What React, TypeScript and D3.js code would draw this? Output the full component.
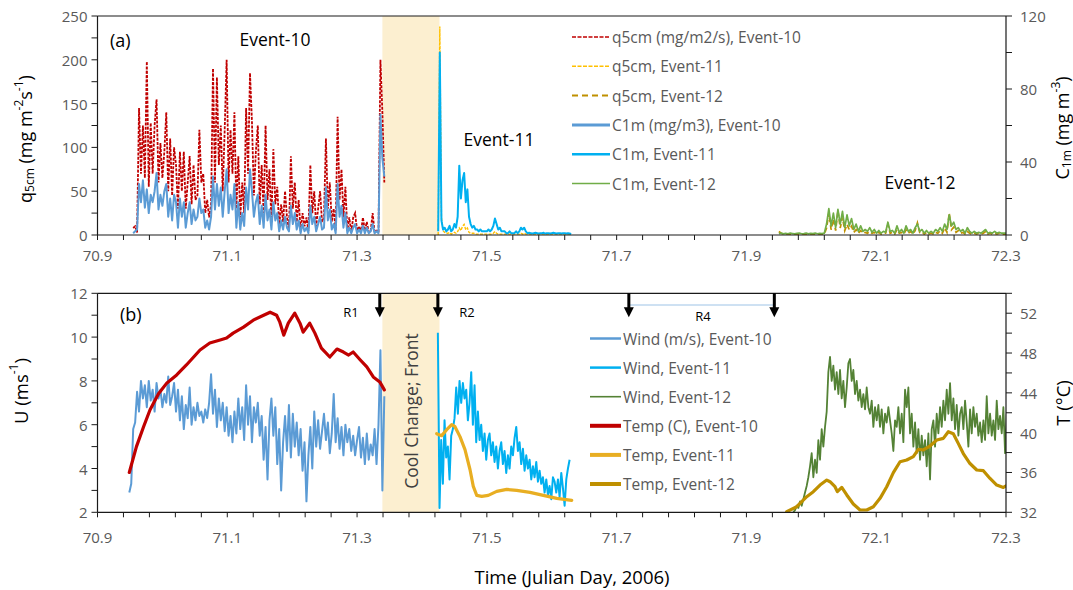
import React from 'react';
import * as d3 from 'd3';

// ---------------- axis ticks ----------------
const DAY_TICKS = [70.9, 71.1, 71.3, 71.5, 71.7, 71.9, 72.1, 72.3];
const Q_TICKS = [0, 50, 100, 150, 200, 250];
const C_TICKS = [0, 40, 80, 120];
const U_TICKS = [2, 4, 6, 8, 10, 12];
const T_TICKS = [32, 36, 40, 44, 48, 52];

// cool change / front shading (Julian day)
const COOL_FRONT = [71.339, 71.427];
// regime arrows R1, R2, R4 start, R4 end
const ARROW_DAYS = [71.335, 71.4245, 71.7188, 71.943];

// ---------------- panel (a): Event-10 ----------------
const E10_TOP_START = 70.955;
const E10_TOP_STEP = 0.003;
const Q5_E10 = [
  8, 10, 3, 145, 70, 125, 65, 198, 55, 128,
  70, 125, 155, 60, 105, 65, 95, 140, 50, 110,
  45, 100, 80, 30, 95, 50, 95, 30, 60, 90,
  35, 80, 40, 45, 120, 60, 70, 25, 40, 20,
  35, 190, 60, 180, 80, 125, 50, 120, 200, 60,
  120, 70, 140, 30, 90, 20, 60, 25, 145, 70,
  185, 130, 45, 95, 125, 35, 80, 25, 125, 40,
  75, 15, 98, 35, 55, 10, 35, 15, 50, 20,
  5, 90, 30, 60, 15, 40, 5, 25, 10, 20,
  5, 80, 25, 50, 10, 30, 50, 15, 20, 110,
  30, 60, 15, 30, 5, 135, 40, 75, 20, 55,
  5, 20, 3, 20, 25, 5, 10, 3, 20, 5,
  15, 3, 5, 25, 3, 5, 3, 200, 140, 60,
];
const C1_E10 = [
  1, 2, 3, 28, 18, 30, 15, 25, 12, 22,
  18, 24, 34, 14, 22, 16, 24, 28, 10, 20,
  8, 22, 18, 4, 20, 10, 18, 4, 12, 18,
  6, 14, 8, 10, 20, 12, 14, 4, 8, 3,
  10, 32, 14, 28, 16, 26, 10, 24, 36, 12,
  22, 14, 28, 4, 18, 3, 12, 5, 26, 14,
  36, 24, 10, 18, 22, 6, 16, 4, 22, 8,
  14, 3, 18, 8, 12, 2, 8, 3, 10, 4,
  2, 16, 6, 12, 3, 8, 1, 6, 2, 4,
  1, 16, 6, 10, 2, 6, 10, 3, 4, 26,
  8, 14, 3, 6, 1, 28, 10, 16, 4, 12,
  1, 4, 1, 4, 6, 1, 3, 1, 5, 1,
  4, 1, 2, 6, 1, 2, 1, 66, 42, 32,
];

// ---------------- panel (a): Event-11 ----------------
const E11_TOP_START = 71.425;
const E11_TOP_STEP = 0.0025;
const Q5_E11 = [
  0, 238, 20, 5, 3, 2, 2, 3, 1, 2,
  3, 2, 4, 8, 5, 10, 12, 6, 8, 3,
  2, 2, 2, 1, 1, 1, 1, 1, 1, 1,
  1, 1, 1, 1, 2, 4, 2, 1, 1, 1,
  1, 1, 1, 1, 1, 1, 1, 1, 1, 1,
  1, 2, 1, 2, 1, 1, 1, 1, 1, 1,
  1, 1, 1, 1, 1, 1, 1, 1, 1, 1,
  1, 1, 1, 1, 1, 1, 1, 1, 1, 1,
  1, 1, 0,
];
const C1_E11 = [
  2, 100, 8, 3, 4, 2, 3, 5, 2, 3,
  6, 4, 10, 38, 20, 30, 34, 18, 25, 10,
  6, 4, 5, 3, 3, 2, 3, 2, 2, 2,
  2, 3, 2, 3, 5, 9, 6, 3, 4, 2,
  2, 2, 1, 1, 2, 1, 1, 1, 2, 1,
  2, 4, 3, 4, 2, 1, 1.2, 1, 0.8, 1,
  1.2, 1, 0.8, 1, 1, 1.2, 0.8, 1, 1, 0.8,
  1, 1.2, 1, 0.8, 1, 1, 0.8, 1, 1, 0.8,
  1, 0.8, 0.6,
];

// ---------------- panel (a): Event-12 ----------------
const E12_TOP_START = 71.95;
const E12_TOP_STEP = 0.0035;
const Q5_E12 = [
  4, 2, 1, 1, 1, 1, 1, 1, 1, 1,
  1, 1, 1, 1, 1, 1, 1, 1, 1, 1,
  1, 8, 25, 6, 18, 5, 28, 8, 20, 5,
  12, 6, 10, 3, 6, 2, 5, 2, 3, 2,
  4, 2, 3, 1, 3, 1, 2, 2, 12, 2,
  3, 1, 6, 2, 3, 1, 6, 2, 4, 1,
  5, 14, 3, 4, 1, 3, 1, 2, 1, 3,
  2, 5, 2, 8, 3, 25, 6, 9, 3, 5,
  2, 3, 1, 4, 2, 1, 2, 1, 2, 1,
  2, 4, 1, 2, 1, 2, 1, 2, 1, 1,
  1,
];
const C1_E12 = [
  0.8, 1, 0.6, 0.9, 0.7, 1, 0.8, 0.6, 0.9, 1,
  0.7, 0.8, 1, 0.6, 0.9, 0.8, 1, 0.7, 0.9, 0.8,
  1, 6, 14.5, 5, 12, 4, 14, 6, 13, 4,
  11, 5, 9, 3, 6, 2, 5, 2, 3, 2,
  4, 1.5, 3, 1, 2.5, 1, 2, 1.5, 7, 2,
  2.5, 1, 5, 1.5, 3, 1, 5, 2, 3, 1,
  4, 6, 2, 3, 1, 2.5, 1, 2, 1, 3,
  2, 4, 2, 6, 3, 11, 5, 7, 3, 4,
  2, 3, 1, 4, 2, 1, 2, 1, 1.5, 1,
  2, 3, 1, 1.5, 1, 2, 1, 1.5, 1, 1,
  1,
];

// ---------------- panel (b): wind ----------------
const WIND_E10_START = 70.949;
const WIND_E10_STEP = 0.003;
const WIND_E10 = [
  2.9, 3.3, 5.8, 6.1, 7.5, 6.6, 8.0, 7.2, 7.8, 6.8,
  8.0, 7.1, 7.6, 6.6, 7.9, 7.2, 7.6, 6.8, 7.4, 7.0,
  8.2, 6.9, 7.3, 7.9, 6.6, 7.6, 6.2, 7.3, 5.8, 6.9,
  6.3, 7.7, 6.0, 6.8, 6.2, 7.0, 6.4, 6.6, 6.1, 6.7,
  6.3, 7.0, 8.3, 6.5, 7.6, 5.9, 7.2, 6.2, 7.0, 5.7,
  6.8, 5.5, 6.4, 5.2, 6.6, 5.6, 7.2, 5.8, 6.8, 5.3,
  7.8, 6.0, 7.3, 5.2, 6.8, 6.1, 7.0, 5.5, 6.4, 4.4,
  5.9, 3.5, 6.2, 7.2, 5.5, 6.8, 4.2, 5.8, 3.0, 5.2,
  6.4, 4.8, 6.9, 4.5, 6.5, 5.0, 6.1, 4.6, 5.8, 3.9,
  5.2, 2.5, 4.6, 5.9, 4.0, 6.6, 5.0, 6.2, 4.9, 5.7,
  6.5, 5.3, 6.1, 4.7, 5.6, 7.4, 5.2, 6.3, 4.9, 5.9,
  4.6, 6.0, 5.2, 5.8, 4.8, 5.5, 4.6, 5.3, 5.9, 4.5,
  5.4, 4.2, 5.6, 4.4, 5.1, 4.6, 5.8, 4.2, 6.0, 9.4,
  3.0, 7.3,
];
const WIND_E11_START = 71.4245;
const WIND_E11_STEP = 0.00257;
const WIND_E11 = [
  10.2, 2.2, 5.3, 3.3, 6.2, 4.5, 5.0, 3.5, 5.5, 5.8,
  6.3, 7.7, 6.5, 8.0, 7.0, 7.9, 7.2, 7.6, 6.2, 7.0,
  8.4, 6.0, 7.8, 5.2, 6.6, 5.3, 6.0, 4.8, 5.6, 4.4,
  5.3, 5.6, 4.6, 5.2, 4.3, 5.0, 4.0, 4.8, 5.2, 4.2,
  4.8, 3.8, 4.6, 4.0, 5.0, 4.6, 5.4, 5.9, 4.8, 5.2,
  4.2, 4.9, 3.9, 4.6, 4.0, 4.4, 3.5, 4.1, 3.6, 4.3,
  3.4, 3.9, 3.3, 3.6, 2.9, 3.5, 2.8, 3.2, 2.6, 3.6,
  3.4, 2.9, 3.5, 2.7, 3.8, 3.1, 2.3, 3.5, 4.0, 4.4,
];
const WIND_E12_START = 71.9723;
const WIND_E12_STEP = 0.002569;
const WIND_E12 = [
  2.0, 2.1, 2.3, 2.2, 2.5, 2.3, 2.6, 2.9, 3.2, 3.6,
  4.1, 4.7, 3.6, 4.4, 3.8, 5.3, 4.4, 5.8, 5.0, 5.9,
  6.6, 8.4, 9.1, 8.0, 8.7, 7.6, 8.4, 7.4, 8.5, 7.2,
  8.0, 6.8, 7.7, 8.8, 9.0, 8.0, 8.5, 7.4, 8.0, 7.1,
  7.6, 6.8, 7.4, 6.7, 7.7, 6.8, 6.5, 7.1, 5.9, 6.8,
  6.2, 6.9, 5.9, 6.7, 5.6, 6.5, 6.1, 6.8, 6.2, 5.6,
  4.8, 6.2, 5.9, 6.8, 5.6, 6.5, 5.2, 7.6, 6.8, 7.7,
  5.6, 6.5, 5.0, 6.1, 4.7, 5.8, 4.4, 5.5, 4.6, 5.3,
  4.1, 5.6, 3.5, 5.8, 6.2, 5.0, 6.5, 5.6, 6.8, 5.9,
  7.1, 6.2, 7.6, 6.5, 7.9, 6.2, 7.2, 5.8, 6.9, 5.5,
  6.5, 6.8, 5.8, 7.1, 6.1, 5.0, 6.7, 5.6, 6.8, 5.9,
  6.5, 5.5, 6.1, 5.2, 6.2, 5.3, 7.3, 5.6, 6.5, 5.5,
  6.2, 5.3, 7.1, 5.8, 6.4, 5.6, 6.8, 4.7, 6.5,
];

// ---------------- panel (b): temperature ----------------
const TEMP_E10_DAY = [
  70.949, 70.960, 70.971, 70.981, 70.994, 71.007, 71.022, 71.037, 71.058, 71.073,
  71.089, 71.099, 71.109, 71.125, 71.140, 71.156, 71.166, 71.176, 71.181, 71.187,
  71.194, 71.204, 71.212, 71.217, 71.227, 71.235, 71.245, 71.258, 71.269, 71.279,
  71.287, 71.294, 71.305, 71.315, 71.325, 71.335, 71.342,
];
const TEMP_E10 = [
  36.0, 38.6, 40.6, 42.3, 43.9, 45.0, 45.8, 46.8, 48.3, 49.0,
  49.3, 49.5, 50.0, 50.6, 51.3, 51.8, 52.1, 51.8, 51.1, 49.8,
  51.0, 52.0, 51.0, 50.1, 51.0, 50.0, 48.5, 47.6, 48.4, 48.1,
  47.8, 48.1, 47.3, 46.6, 45.6, 45.1, 44.3,
];
const TEMP_E11_DAY = [
  71.4227, 71.4304, 71.4381, 71.4458, 71.4509, 71.4586, 71.4663, 71.4740, 71.4791, 71.4844,
  71.4921, 71.5022, 71.5152, 71.5306, 71.5460, 71.5665, 71.5870, 71.6077, 71.6308,
];
const TEMP_E11 = [
  39.9, 39.7, 40.3, 40.8, 40.6, 39.6, 38.3, 36.3, 34.6, 33.7,
  33.6, 33.7, 34.1, 34.3, 34.2, 34.0, 33.7, 33.4, 33.2,
];
const TEMP_E12_DAY = [
  71.9621, 71.9775, 71.9929, 72.0031, 72.0134, 72.0238, 72.0288, 72.0365, 72.0401, 72.0469,
  72.0546, 72.0647, 72.0751, 72.0854, 72.0956, 72.1059, 72.1162, 72.1264, 72.1367, 72.1470,
  72.1572, 72.1649, 72.1726, 72.1829, 72.1933, 72.2034, 72.2111, 72.2188, 72.2266, 72.2342,
  72.2445, 72.2549, 72.2651, 72.2754, 72.2857, 72.2959, 72.3,
];
const TEMP_E12 = [
  32.06, 32.56, 33.57, 34.07, 34.74, 35.24, 35.07, 34.57, 34.07, 34.5,
  33.74, 32.83, 32.23, 32.23, 32.56, 33.4, 34.57, 35.98, 37.08, 37.25,
  37.59, 38.33, 38.26, 38.66, 39.26, 39.43, 40.1, 39.9, 38.9, 37.9,
  36.9, 36.25, 36.18, 35.4, 34.74, 34.5, 34.64,
];

type P = [number, number];
const regular = (start: number, step: number, vals: number[]): P[] =>
  vals.map((v, i) => [start + i * step, v] as P);
const paired = (days: number[], vals: number[]): P[] => vals.map((v, i) => [days[i], v] as P);

const FONT = "'Open Sans', 'DejaVu Sans', sans-serif";
const GRAY = '#595959';

export default function App() {
  const W = 1073;
  const H = 590;
  const X0 = 97.5;
  const X1 = 1006;
  const A_TOP = 16;
  const A_BOT = 235;
  const B_TOP = 293.3;
  const B_BOT = 512.3;

  const x = d3.scaleLinear().domain([70.9, 72.3]).range([X0, X1]);
  const yQ = d3.scaleLinear().domain([0, 250]).range([A_BOT, A_TOP]);
  const yC = d3.scaleLinear().domain([0, 120]).range([A_BOT, A_TOP]);
  const yU = d3.scaleLinear().domain([2, 12]).range([B_BOT, B_TOP]);
  const yT = d3.scaleLinear().domain([32, 54]).range([B_BOT, B_TOP]);

  const path = (ys: d3.ScaleLinear<number, number>, pts: P[]) =>
    d3.line<P>().x((d) => x(d[0])).y((d) => ys(d[1]))(pts) || '';

  const topQ = [
    { pts: regular(E10_TOP_START, E10_TOP_STEP, Q5_E10), color: '#C00000', w: 1.8, dash: '3,1.3' },
    { pts: regular(E11_TOP_START, E11_TOP_STEP, Q5_E11), color: '#FFC000', w: 1.4, dash: '3,1.3' },
    { pts: regular(E12_TOP_START, E12_TOP_STEP, Q5_E12), color: '#BF9000', w: 1.7, dash: '5,3' },
  ];
  const topC = [
    { pts: regular(E10_TOP_START, E10_TOP_STEP, C1_E10), color: '#5B9BD5', w: 2 },
    { pts: regular(E11_TOP_START, E11_TOP_STEP, C1_E11), color: '#00B0F0', w: 2 },
    { pts: regular(E12_TOP_START, E12_TOP_STEP, C1_E12), color: '#70AD47', w: 1.7 },
  ];
  const botU = [
    { pts: regular(WIND_E10_START, WIND_E10_STEP, WIND_E10), color: '#5B9BD5', w: 2 },
    { pts: regular(WIND_E11_START, WIND_E11_STEP, WIND_E11), color: '#00B0F0', w: 2 },
    { pts: regular(WIND_E12_START, WIND_E12_STEP, WIND_E12), color: '#548235', w: 1.8 },
  ];
  const botT = [
    { pts: paired(TEMP_E10_DAY, TEMP_E10), color: '#C00000', w: 3.2 },
    { pts: paired(TEMP_E11_DAY, TEMP_E11), color: '#E8AE22', w: 3.2 },
    { pts: paired(TEMP_E12_DAY, TEMP_E12), color: '#BF9000', w: 3.2 },
  ];

  const topLegend = [
    { label: 'q5cm (mg/m2/s), Event-10', color: '#C00000', w: 1.6, dash: '4,1.5' },
    { label: 'q5cm, Event-11', color: '#FFC000', w: 1.4, dash: '4,1.5' },
    { label: 'q5cm, Event-12', color: '#BF9000', w: 2, dash: '6,4' },
    { label: 'C1m (mg/m3), Event-10', color: '#5B9BD5', w: 3 },
    { label: 'C1m, Event-11', color: '#00B0F0', w: 2.5 },
    { label: 'C1m, Event-12', color: '#70AD47', w: 1.6 },
  ];
  const botLegend = [
    { label: 'Wind (m/s), Event-10', color: '#5B9BD5', w: 2.5 },
    { label: 'Wind, Event-11', color: '#00B0F0', w: 2.5 },
    { label: 'Wind, Event-12', color: '#548235', w: 1.6 },
    { label: 'Temp (C), Event-10', color: '#C00000', w: 4 },
    { label: 'Temp, Event-11', color: '#E8AE22', w: 4 },
    { label: 'Temp, Event-12', color: '#BF9000', w: 4 },
  ];

  const minorX = d3.range(0, 36).map((i) => 70.9 + i * 0.04);
  const minorQ = d3.range(0, 11).map((i) => i * 25);
  const minorC = d3.range(0, 7).map((i) => i * 20);
  const minorU = d3.range(2, 13);
  const minorT = d3.range(32, 55, 2);

  const xAxis = (yAxis: number, labelY: number) => (
    <g>
      <line x1={X0} x2={X1} y1={yAxis} y2={yAxis} stroke="#1a1a1a" strokeWidth={1.2} />
      {minorX.map((d, i) => (
        <line key={i} x1={x(d)} x2={x(d)} y1={yAxis} y2={yAxis + 5} stroke="#1a1a1a" strokeWidth={1} />
      ))}
      {DAY_TICKS.map((d) => (
        <text key={d} x={x(d)} y={labelY} textAnchor="middle" dominantBaseline="central" fontSize={15} fill={GRAY}>
          {d.toFixed(1)}
        </text>
      ))}
    </g>
  );

  const yAxisLeft = (
    ys: d3.ScaleLinear<number, number>,
    minor: number[],
    major: number[],
    top: number,
    bot: number
  ) => (
    <g>
      <line x1={X0} x2={X0} y1={top} y2={bot} stroke="#1a1a1a" strokeWidth={1.2} />
      {minor.map((d, i) => (
        <line key={i} x1={X0 - 6} x2={X0} y1={ys(d)} y2={ys(d)} stroke="#1a1a1a" strokeWidth={1} />
      ))}
      {major.map((d) => (
        <text key={d} x={X0 - 10} y={ys(d)} textAnchor="end" dominantBaseline="central" fontSize={15} fill={GRAY}>
          {d}
        </text>
      ))}
    </g>
  );
  const yAxisRight = (
    ys: d3.ScaleLinear<number, number>,
    minor: number[],
    major: number[],
    top: number,
    bot: number
  ) => (
    <g>
      <line x1={X1} x2={X1} y1={top} y2={bot} stroke="#1a1a1a" strokeWidth={1.2} />
      {minor.map((d, i) => (
        <line key={i} x1={X1} x2={X1 + 6} y1={ys(d)} y2={ys(d)} stroke="#1a1a1a" strokeWidth={1} />
      ))}
      {major.map((d) => (
        <text key={d} x={X1 + 14} y={ys(d)} textAnchor="start" dominantBaseline="central" fontSize={15} fill={GRAY}>
          {d}
        </text>
      ))}
    </g>
  );

  const arrow = (d: number, k: number) => {
    const ax = x(d);
    return (
      <g key={k}>
        <line x1={ax} x2={ax} y1={B_TOP} y2={B_TOP + 16} stroke="#000" strokeWidth={3} />
        <polygon points={`${ax - 5},${B_TOP + 14} ${ax + 5},${B_TOP + 14} ${ax},${B_TOP + 24}`} fill="#000" />
      </g>
    );
  };

  return (
    <svg
      width={W}
      height={H}
      viewBox={`0 0 ${W} ${H}`}
      style={{ position: 'absolute', left: 0, top: 0, background: '#fff' }}
      fontFamily={FONT}
    >
      <defs>
        <clipPath id="clipA">
          <rect x={X0} y={A_TOP} width={X1 - X0} height={A_BOT - A_TOP} />
        </clipPath>
        <clipPath id="clipB">
          <rect x={X0} y={B_TOP} width={X1 - X0} height={B_BOT - B_TOP} />
        </clipPath>
      </defs>
      <rect x={0} y={0} width={W} height={H} fill="#fff" />

      {/* shading */}
      <rect x={x(COOL_FRONT[0])} y={A_TOP} width={x(COOL_FRONT[1]) - x(COOL_FRONT[0])} height={A_BOT - A_TOP} fill="#FCEFD0" />
      <rect x={x(COOL_FRONT[0])} y={B_TOP} width={x(COOL_FRONT[1]) - x(COOL_FRONT[0])} height={B_BOT - B_TOP} fill="#FCEFD0" />

      {/* ---------- panel (a) ---------- */}
      <line x1={X0} x2={X1} y1={A_TOP} y2={A_TOP} stroke="#1a1a1a" strokeWidth={1.2} />
      <g clipPath="url(#clipA)">
        {topQ.map((s, i) => (
          <path key={i} d={path(yQ, s.pts)} fill="none" stroke={s.color} strokeWidth={s.w} strokeDasharray={s.dash} />
        ))}
        {topC.map((s, i) => (
          <path key={i} d={path(yC, s.pts)} fill="none" stroke={s.color} strokeWidth={s.w} strokeLinejoin="round" />
        ))}
      </g>
      {xAxis(A_BOT, 255)}
      {yAxisLeft(yQ, minorQ, Q_TICKS, A_TOP, A_BOT)}
      {yAxisRight(yC, minorC, C_TICKS, A_TOP, A_BOT)}

      <text x={110} y={47} fontSize={18} fill="#000">(a)</text>
      <text x={275} y={46} fontSize={17.5} fill="#000" textAnchor="middle">Event-10</text>
      <text x={499} y={146} fontSize={17.5} fill="#000" textAnchor="middle">Event-11</text>
      <text x={920} y={189} fontSize={17.5} fill="#000" textAnchor="middle">Event-12</text>

      {topLegend.map((l, i) => {
        const ly = 37 + i * 29.3;
        return (
          <g key={i}>
            <line x1={572} x2={610} y1={ly} y2={ly} stroke={l.color} strokeWidth={l.w} strokeDasharray={l.dash} />
            <text x={612} y={ly} dominantBaseline="central" fontSize={15.5} fill={GRAY}>{l.label}</text>
          </g>
        );
      })}

      {/* axis titles panel (a) */}
      <text transform="translate(25,139) rotate(-90)" textAnchor="middle" dominantBaseline="central" fontSize={18} fill="#000">
        q<tspan fontSize={12} dy={4}>5cm</tspan>
        <tspan dy={-4}> (mg m</tspan>
        <tspan fontSize={12} dy={-7}>-2</tspan>
        <tspan dy={7}>s</tspan>
        <tspan fontSize={12} dy={-7}>-1</tspan>
        <tspan dy={7}>)</tspan>
      </text>
      <text transform="translate(1062,128) rotate(-90)" textAnchor="middle" dominantBaseline="central" fontSize={18} fill="#000">
        C<tspan fontSize={12} dy={4}>1m</tspan>
        <tspan dy={-4}> (mg m</tspan>
        <tspan fontSize={12} dy={-7}>-3</tspan>
        <tspan dy={7}>)</tspan>
      </text>

      {/* ---------- panel (b) ---------- */}
      <line x1={X0} x2={X1} y1={B_TOP} y2={B_TOP} stroke="#1a1a1a" strokeWidth={1.2} />
      <text
        transform={`translate(${(x(COOL_FRONT[0]) + x(COOL_FRONT[1])) / 2},411) rotate(-90)`}
        textAnchor="middle"
        dominantBaseline="central"
        fontSize={17.5}
        fill="#404040"
      >
        Cool Change; Front
      </text>
      <g clipPath="url(#clipB)">
        {botU.map((s, i) => (
          <path key={i} d={path(yU, s.pts)} fill="none" stroke={s.color} strokeWidth={s.w} strokeLinejoin="round" />
        ))}
        {botT.map((s, i) => (
          <path key={i} d={path(yT, s.pts)} fill="none" stroke={s.color} strokeWidth={s.w} strokeLinejoin="round" strokeLinecap="round" />
        ))}
      </g>
      {xAxis(B_BOT, 537)}
      {yAxisLeft(yU, minorU, U_TICKS, B_TOP, B_BOT)}
      {yAxisRight(yT, minorT, T_TICKS, B_TOP, B_BOT)}

      <line x1={x(ARROW_DAYS[2])} x2={x(ARROW_DAYS[3])} y1={305} y2={305} stroke="#9DC3E6" strokeWidth={1} />
      {ARROW_DAYS.map((d, i) => arrow(d, i))}
      <text x={351} y={317} fontSize={13} fill="#000" textAnchor="middle">R1</text>
      <text x={467} y={317} fontSize={13} fill="#000" textAnchor="middle">R2</text>
      <text x={703} y={321} fontSize={13} fill="#000" textAnchor="middle">R4</text>
      <text x={120} y={321} fontSize={18} fill="#000">(b)</text>

      {botLegend.map((l, i) => {
        const ly = 338.5 + i * 29.1;
        return (
          <g key={i}>
            <line x1={590} x2={621} y1={ly} y2={ly} stroke={l.color} strokeWidth={l.w} />
            <text x={623} y={ly} dominantBaseline="central" fontSize={15.5} fill={GRAY}>{l.label}</text>
          </g>
        );
      })}

      <text transform="translate(20,391) rotate(-90)" textAnchor="middle" dominantBaseline="central" fontSize={18.5} fill="#000">
        U (ms<tspan fontSize={12} dy={-7}>-1</tspan>
        <tspan dy={7}>)</tspan>
      </text>
      <text transform="translate(1062,403) rotate(-90)" textAnchor="middle" dominantBaseline="central" fontSize={18.5} fill="#000">
        T (°C)
      </text>

      <text x={572} y={584} textAnchor="middle" fontSize={18.5} fill="#000">Time (Julian Day, 2006)</text>
    </svg>
  );
}
